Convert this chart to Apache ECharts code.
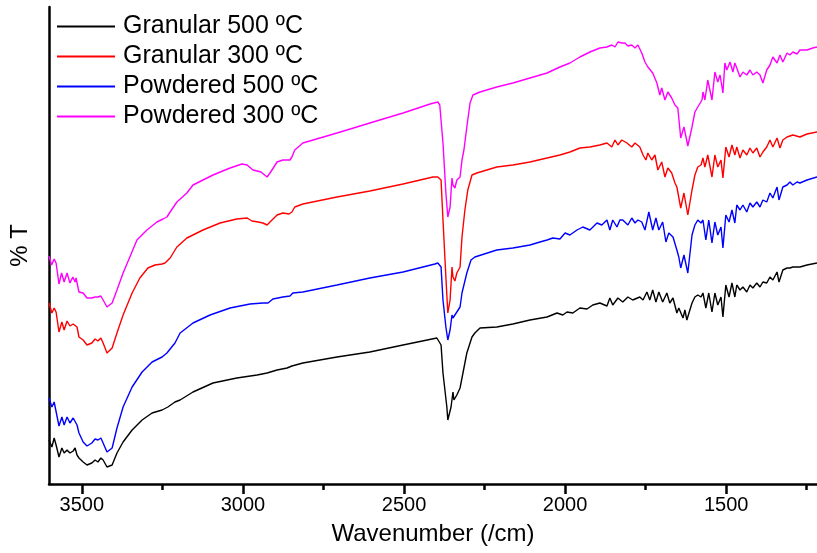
<!DOCTYPE html>
<html>
<head>
<meta charset="utf-8">
<script src="https://cdn.jsdelivr.net/npm/echarts@6/dist/echarts.min.js"></script>
<style>
  html, body { margin: 0; padding: 0; background: #fff; }
  #chart { width: 817px; height: 553px; }
</style>
</head>
<body>
<div id="chart"></div>
<script>
// FTIR spectra, [wavenumber (/cm), %T in arbitrary offset units]
const granular500 = [
  [3602,44],[3593,37],[3586,46],[3580,39],[3571,27],[3562,36],[3555,31],[3546,34],[3537,31],[3527,33],
  [3521,36],[3515,29],[3509,26],[3496,22],[3484,19],[3469,21],[3459,24],[3450,22],[3441,26],[3434,24],
  [3422,17],[3416,15],[3406,19],[3391,31],[3372,42],[3344,54],[3313,64],[3282,71],[3251,74],[3233,77],
  [3211,82],[3195,84],[3155,92],[3093,101],[3019,106],[2956,109],[2925,111],[2894,114],[2863,116],[2848,118],
  [2814,121],[2708,127],[2606,132],[2503,139],[2398,146],[2385,139],[2379,111],[2367,77],[2364,64],[2354,77],
  [2348,92],[2345,84],[2336,89],[2326,96],[2317,111],[2305,131],[2289,147],[2280,151],[2264,156],[2212,157],
  [2162,160],[2109,164],[2056,167],[2025,171],[2007,169],[1994,172],[1976,171],[1954,176],[1932,175],[1914,179],
  [1892,181],[1870,178],[1861,186],[1852,179],[1836,186],[1821,182],[1805,187],[1790,184],[1768,187],[1758,184],
  [1746,192],[1737,184],[1728,194],[1718,182],[1709,192],[1697,182],[1684,191],[1675,181],[1665,186],[1653,171],
  [1647,176],[1634,166],[1628,174],[1622,164],[1606,181],[1597,187],[1588,189],[1578,187],[1572,191],[1563,176],
  [1554,191],[1544,172],[1535,191],[1526,179],[1516,187],[1510,167],[1501,199],[1491,187],[1482,201],[1473,187],
  [1467,199],[1457,194],[1448,197],[1436,192],[1426,199],[1417,196],[1405,201],[1395,197],[1386,202],[1374,201],
  [1364,207],[1355,204],[1342,212],[1336,202],[1324,214],[1311,216],[1302,216],[1293,217],[1271,217],[1249,219],
  [1218,221]
];

const granular300 = [
  [3602,181],[3593,171],[3586,176],[3580,172],[3571,152],[3562,162],[3555,154],[3546,163],[3537,158],[3527,160],
  [3521,162],[3515,157],[3509,147],[3496,144],[3484,139],[3469,141],[3459,145],[3450,143],[3441,146],[3434,141],
  [3422,131],[3416,130],[3406,136],[3391,151],[3372,169],[3344,191],[3320,206],[3295,216],[3273,219],[3251,220],
  [3242,221],[3226,226],[3205,237],[3174,246],[3124,254],[3071,261],[3019,265],[2987,266],[2972,263],[2953,262],
  [2938,261],[2925,259],[2916,262],[2894,269],[2876,271],[2857,270],[2848,272],[2839,277],[2814,280],[2708,287],
  [2606,293],[2503,300],[2410,307],[2395,307],[2385,304],[2379,264],[2370,207],[2364,171],[2357,184],[2351,217],
  [2348,207],[2342,203],[2336,211],[2326,217],[2320,247],[2311,274],[2302,294],[2289,309],[2274,311],[2212,317],
  [2162,319],[2109,322],[2056,326],[2016,329],[1985,332],[1954,336],[1923,337],[1892,339],[1870,341],[1855,337],
  [1845,344],[1836,339],[1824,344],[1808,341],[1793,337],[1783,341],[1768,337],[1758,329],[1749,324],[1743,331],
  [1731,324],[1721,329],[1712,314],[1700,322],[1690,307],[1681,316],[1669,311],[1659,301],[1653,297],[1641,276],
  [1631,291],[1619,269],[1606,294],[1597,309],[1588,317],[1578,319],[1572,326],[1566,317],[1557,329],[1544,307],
  [1535,329],[1526,317],[1516,324],[1510,306],[1501,337],[1491,327],[1482,339],[1473,329],[1467,337],[1457,326],
  [1448,334],[1436,329],[1426,336],[1417,331],[1405,336],[1395,327],[1386,332],[1374,337],[1364,344],[1355,337],
  [1342,346],[1333,336],[1324,344],[1311,347],[1293,349],[1271,347],[1249,350],[1218,352]
];

const powdered500 = [
  [3602,86],[3593,77],[3586,82],[3580,81],[3571,58],[3562,67],[3555,59],[3546,67],[3537,61],[3527,66],
  [3521,64],[3515,59],[3509,51],[3496,42],[3484,38],[3469,41],[3459,45],[3450,44],[3441,46],[3434,41],
  [3422,32],[3416,30],[3406,36],[3391,56],[3372,77],[3344,97],[3313,112],[3282,122],[3251,127],[3236,131],
  [3211,141],[3195,151],[3155,161],[3102,169],[3040,176],[2978,180],[2938,181],[2922,181],[2907,185],[2876,187],
  [2854,188],[2845,191],[2814,192],[2708,199],[2606,206],[2503,212],[2404,220],[2395,221],[2385,217],[2379,184],
  [2370,157],[2364,144],[2357,154],[2351,169],[2348,166],[2342,168],[2336,172],[2326,177],[2320,191],[2305,211],
  [2292,224],[2280,227],[2212,234],[2162,236],[2109,239],[2078,242],[2056,244],[2038,246],[2016,245],[2000,251],
  [1985,249],[1963,254],[1945,257],[1923,254],[1901,261],[1886,259],[1870,264],[1861,254],[1852,264],[1839,257],
  [1830,264],[1821,264],[1805,259],[1793,266],[1783,261],[1774,264],[1762,262],[1752,254],[1740,272],[1728,254],
  [1718,266],[1709,254],[1697,262],[1687,242],[1678,251],[1665,247],[1653,234],[1647,227],[1641,216],[1631,229],
  [1619,211],[1606,249],[1597,259],[1588,264],[1578,261],[1572,264],[1563,244],[1554,264],[1544,241],[1535,262],
  [1526,249],[1516,257],[1510,236],[1501,269],[1491,262],[1482,274],[1473,261],[1467,279],[1457,274],[1448,279],
  [1436,272],[1426,281],[1417,277],[1405,282],[1395,277],[1386,284],[1374,282],[1364,291],[1355,286],[1342,297],
  [1336,284],[1324,297],[1311,299],[1302,302],[1293,299],[1280,302],[1271,301],[1249,304],[1218,307]
];

const powdered300 = [
  [3602,228],[3594,219],[3586,225],[3580,221],[3571,200],[3563,211],[3555,202],[3546,211],[3537,201],[3528,207],
  [3521,202],[3518,206],[3509,192],[3496,191],[3484,186],[3469,186],[3459,187],[3450,187],[3441,188],[3434,184],
  [3422,177],[3416,177],[3406,181],[3391,194],[3372,211],[3351,227],[3329,244],[3298,254],[3267,262],[3248,265],
  [3236,267],[3226,272],[3205,282],[3174,291],[3155,299],[3093,309],[3040,316],[3003,320],[2987,319],[2969,314],
  [2956,313],[2944,312],[2925,307],[2916,311],[2894,322],[2876,324],[2854,324],[2848,327],[2839,334],[2814,341],
  [2761,346],[2708,351],[2606,361],[2503,371],[2419,380],[2395,382],[2389,379],[2379,341],[2370,291],[2364,267],
  [2357,277],[2351,306],[2348,299],[2342,296],[2336,304],[2326,307],[2320,324],[2314,334],[2305,357],[2295,381],
  [2286,389],[2264,392],[2212,397],[2162,401],[2109,406],[2056,411],[2016,417],[1985,421],[1954,427],[1923,432],
  [1892,436],[1870,437],[1855,439],[1845,437],[1836,442],[1824,441],[1814,441],[1805,438],[1793,439],[1783,436],
  [1774,439],[1762,431],[1752,422],[1743,417],[1737,419],[1728,411],[1715,401],[1706,389],[1700,396],[1690,384],
  [1681,392],[1669,386],[1659,379],[1650,376],[1641,346],[1631,357],[1619,338],[1606,357],[1597,372],[1588,377],
  [1575,384],[1572,392],[1566,384],[1557,404],[1544,384],[1535,412],[1526,402],[1519,409],[1510,391],[1504,421],
  [1498,414],[1488,422],[1479,412],[1473,421],[1467,416],[1457,407],[1448,412],[1436,409],[1426,414],[1417,409],
  [1405,412],[1395,409],[1386,401],[1374,414],[1364,419],[1355,427],[1342,421],[1333,429],[1324,422],[1311,431],
  [1302,429],[1293,432],[1280,430],[1271,434],[1249,434],[1231,436],[1218,437]
];

const seriesNames = ['Granular 500 ºC', 'Granular 300 ºC', 'Powdered 500 ºC', 'Powdered 300 ºC'];
const seriesColors = ['#000000', '#ff0000', '#0000ff', '#ff00ff'];
const seriesData = [granular500, granular300, powdered500, powdered300];
const majorTicks = [3500, 3000, 2500, 2000, 1500];
const minorTicks = [3250, 2750, 2250, 1750, 1250];

const font = 'Liberation Sans, Arial, sans-serif';
const chart = echarts.init(document.getElementById('chart'));

const baseX = {
  type: 'value',
  min: 1218,
  max: 3602,
  inverse: true,
  splitLine: { show: false }
};

chart.setOption({
  animation: false,
  grid: { left: 49, right: 0, top: 7, bottom: 69 },
  legend: {
    orient: 'vertical',
    left: 52,
    top: 9,
    icon: 'rect',
    itemWidth: 58,
    itemHeight: 2,
    itemGap: 5,
    data: seriesNames,
    textStyle: { fontFamily: font, fontSize: 25, color: '#000', lineHeight: 23, padding: [0, 0, 0, 3] }
  },
  xAxis: [
    Object.assign({}, baseX, {
      name: 'Wavenumber (/cm)',
      nameLocation: 'middle',
      nameGap: 38,
      nameTextStyle: { fontFamily: font, fontSize: 24, color: '#000' },
      axisLine: { show: true, onZero: false, lineStyle: { color: '#000', width: 2.5 } },
      axisTick: { show: true, customValues: majorTicks, length: 10, inside: false, lineStyle: { color: '#000', width: 2.5 } },
      axisLabel: {
        customValues: majorTicks,
        margin: 11,
        fontFamily: font,
        fontSize: 20,
        color: '#000',
        formatter: v => String(v)
      }
    }),
    Object.assign({}, baseX, {
      position: 'bottom',
      axisLine: { show: false },
      axisTick: { show: true, customValues: minorTicks, length: 6, lineStyle: { color: '#000', width: 2.5 } },
      axisLabel: { show: false }
    })
  ],
  yAxis: {
    type: 'value',
    min: 0,
    max: 477,
    name: '% T',
    nameLocation: 'middle',
    nameRotate: 90,
    nameGap: 17,
    nameTextStyle: { fontFamily: font, fontSize: 24, color: '#000' },
    axisLine: { show: true, onZero: false, lineStyle: { color: '#000', width: 2.5 } },
    axisTick: { show: false },
    axisLabel: { show: false },
    splitLine: { show: false }
  },
  series: seriesData.map((d, i) => ({
    name: seriesNames[i],
    type: 'line',
    xAxisIndex: 0,
    data: d,
    symbol: 'none',
    smooth: false,
    clip: true,
    color: seriesColors[i],
    lineStyle: { color: seriesColors[i], width: 1.4 }
  }))
});
</script>
</body>
</html>
